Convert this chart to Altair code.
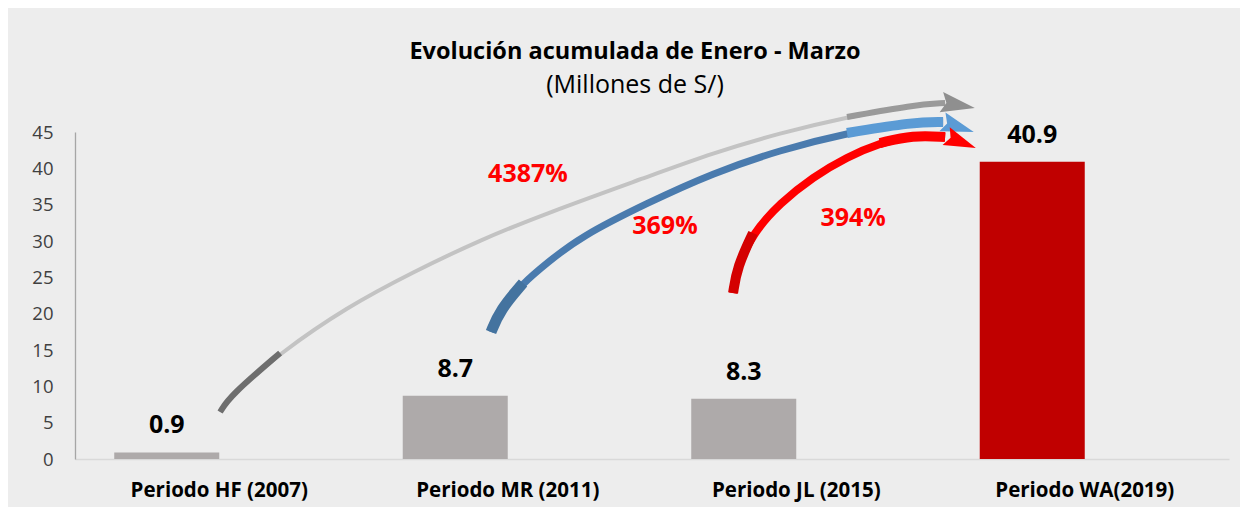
import altair as alt
import pandas as pd

FONT = "Open Sans"

# ---- bar data ----
categorias = ["Periodo HF (2007)", "Periodo MR (2011)", "Periodo JL (2015)", "Periodo WA(2019)"]
valores = [0.9, 8.7, 8.3, 40.9]
etiquetas = ["0.9", "8.7", "8.3", "40.9"]
y_ticks = [0, 5, 10, 15, 20, 25, 30, 35, 40, 45]

# ---- curved arrows (x in category units 0..4, y in millions) ----
gris_x = [0.503, 0.537, 0.711, 0.943, 1.172, 1.404, 1.636, 1.983, 2.211, 2.444, 2.676, 2.905, 3.016]
gris_y = [6.47, 8.67, 14.59, 20.92, 25.73, 30.14, 33.85, 38.81, 42.11, 44.86, 47.06, 48.71, 48.99]

azul_x = [1.442, 1.473, 1.553, 1.636, 1.750, 1.983, 2.211, 2.444, 2.676, 2.905, 3.009]
azul_y = [17.48, 20.50, 24.22, 26.97, 30.55, 35.23, 39.36, 42.52, 44.86, 46.37, 46.37]

rojo_x = [2.281, 2.295, 2.350, 2.444, 2.558, 2.676, 2.790, 2.905, 3.016]
rojo_y = [22.84, 26.42, 31.10, 35.23, 38.81, 41.56, 43.48, 44.58, 44.31]

flechas = ["gris", "azul", "rojo"]
puntas_x = [3.061, 3.061, 3.071]
puntas_y = [48.71, 45.69, 43.62]

porcentajes = ["4387%", "369%", "394%"]
porc_x = [1.570, 2.045, 2.697]
porc_y = [39.2, 32.1, 33.2]

# ---- styles ----
COLOR_GRIS_BARRA = "#AEAAAA"
COLOR_ROJO_BARRA = "#C00000"
colores_barras = [COLOR_GRIS_BARRA, COLOR_GRIS_BARRA, COLOR_GRIS_BARRA, COLOR_ROJO_BARRA]
# segments: (kind, start idx, end idx, width, color)
estilo_segmentos = {
    "gris": [("cuerpo", 0, None, 4, "#C3C3C3"), ("cola", 0, 3, 6, "#6E6E6E"), ("punta", 10, None, 6, "#9A9A9A")],
    "azul": [("cuerpo", 0, None, 7, "#4A7BAE"), ("cola", 0, 3, 11, "#44739F"), ("punta", 8, None, 10, "#5B9BD5")],
    "rojo": [("cuerpo", 0, None, 8, "#FF0000"), ("cola", 0, 3, 10, "#D40000"), ("punta", 6, None, 10, "#FF0000")],
}
estilo_puntas = {"gris": (10, 1156, "#8F8F8F"), "azul": (18, 1089, "#5B9BD5"), "rojo": (22, 1024, "#FF0000")}

# ---- tables ----
df_barras = pd.DataFrame({
    "cat": categorias, "valor": valores, "etq": etiquetas,
    "color": colores_barras, "serie": ["Valor"] * 4,
})

puntos = {"gris": (gris_x, gris_y), "azul": (azul_x, azul_y), "rojo": (rojo_x, rojo_y)}
filas = []
orden_capa = 0
for seg_tipo in ["cuerpo", "cola", "punta"]:
    for nombre in flechas:
        xs, ys = puntos[nombre]
        for (tipo, a, b, w, col) in estilo_segmentos[nombre]:
            if tipo != seg_tipo:
                continue
            for i, (px, py) in enumerate(zip(xs[a:b], ys[a:b])):
                filas.append({"seg": f"{orden_capa:02d}-{nombre}-{tipo}", "i": i, "ax": px,
                              "valor": py, "w": w, "color": col})
            orden_capa += 1
df_flechas = pd.DataFrame(filas)

df_puntas = pd.DataFrame({
    "flecha": flechas, "ax": puntas_x, "valor": puntas_y,
    "ang": [estilo_puntas[f][0] for f in flechas],
    "tam": [estilo_puntas[f][1] for f in flechas],
    "color": [estilo_puntas[f][2] for f in flechas],
})

df_porc = pd.DataFrame({"txt": porcentajes, "ax": porc_x, "valor": porc_y})

# ---- encodings ----
y_enc = alt.Y(
    "valor:Q",
    scale=alt.Scale(domain=[0, 45], nice=False, zero=True),
    axis=alt.Axis(values=y_ticks, title=None, grid=False, ticks=False,
                  labelFontSize=18.5, labelFont=FONT, labelColor="#404040",
                  labelPadding=22, domainColor="#A6A6A6", domainWidth=1.3),
)

x_band = alt.X(
    "cat:N", sort=categorias,
    scale=alt.Scale(domain=categorias, paddingInner=0.272, paddingOuter=0.136),
    axis=alt.Axis(title=None, labelAngle=0, labelFontSize=20.5, labelFontWeight="bold",
                  labelFont=FONT, labelColor="black", labelPadding=21, ticks=False,
                  domainColor="#D9D9D9", domainWidth=1.5, labelLimit=400),
)
x_off = alt.XOffset("serie:N", scale=alt.Scale(domain=["Valor", "Vacío"]))

x_q = alt.X("ax:Q", scale=alt.Scale(domain=[0, 4], nice=False, zero=False), axis=None)

barras = alt.Chart(df_barras).mark_bar().encode(
    x=x_band, xOffset=x_off, y=y_enc, color=alt.Color("color:N", scale=None)
)
etq_barras = alt.Chart(df_barras).mark_text(
    font=FONT, fontSize=25, fontWeight="bold", color="black", baseline="alphabetic", dy=-19
).encode(x=x_band, xOffset=x_off, y=y_enc, text="etq:N")

capa_barras = alt.layer(barras, etq_barras)

trazos = alt.Chart(df_flechas).mark_line(interpolate="basis", strokeCap="butt").encode(
    x=x_q, y=y_enc,
    size=alt.Size("w:Q", scale=None, legend=None),
    color=alt.Color("color:N", scale=None),
    detail="seg:N",
    order=alt.Order("i:Q"),
)
puntas = alt.Chart(df_puntas).mark_point(
    filled=True, opacity=1, shape="M -1 -0.6 L 1 0 L -1 0.6 L -0.7 0 Z"
).encode(
    x=x_q, y=y_enc,
    size=alt.Size("tam:Q", scale=None, legend=None),
    angle=alt.Angle("ang:Q", scale=None),
    color=alt.Color("color:N", scale=None),
)
textos_porc = alt.Chart(df_porc).mark_text(
    font=FONT, fontSize=25, fontWeight="bold", color="#FF0000", baseline="middle", align="center"
).encode(x=x_q, y=y_enc, text="txt:N")

capa_flechas = alt.layer(trazos, puntas, textos_porc)

chart = alt.layer(capa_barras, capa_flechas).resolve_scale(x="independent").properties(
    width=1154, height=327,
    autosize=alt.AutoSizeParams(type="none"),
    padding={"left": 67, "top": 124, "right": 11, "bottom": 48},
    background="#EDEDED",
    title=alt.TitleParams(
        text="Evolución acumulada de Enero - Marzo",
        subtitle="(Millones de S/)",
        font=FONT, fontSize=23.5, fontWeight="bold", color="black",
        subtitleFont=FONT, subtitleFontSize=25, subtitleColor="black",
        subtitlePadding=10, anchor="middle", dx=-17, dy=41, offset=34,
    ),
).configure_view(stroke=None)

chart.save("out.html", embed_options={"renderer": "svg", "actions": False})
